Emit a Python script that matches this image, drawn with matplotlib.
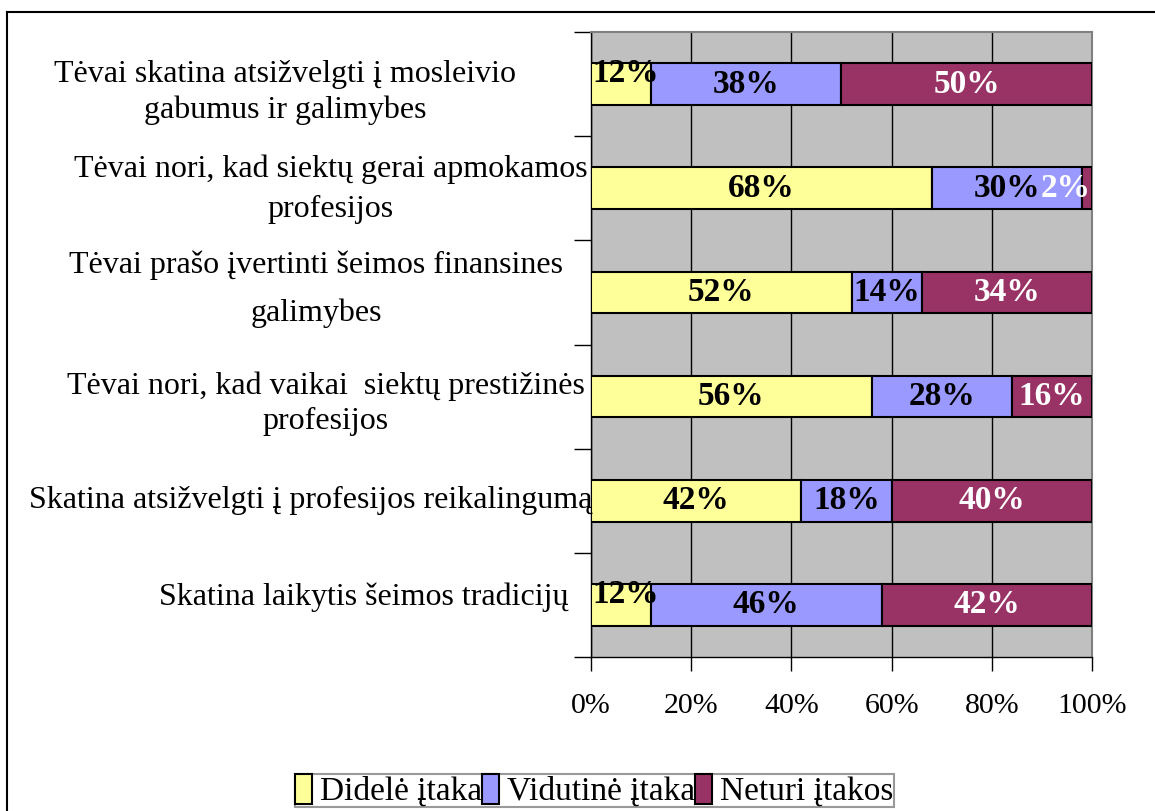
import matplotlib
matplotlib.use("Agg")
import matplotlib.pyplot as plt
from matplotlib.patches import Patch
from matplotlib.lines import Line2D
from matplotlib.transforms import blended_transform_factory

plt.rcParams['font.family'] = ['Liberation Serif', 'DejaVu Serif']

categories = [
    "Tėvai skatina atsižvelgti į mosleivio\ngabumus ir galimybes",
    "Tėvai nori, kad siektų gerai apmokamos\nprofesijos",
    "Tėvai prašo įvertinti šeimos finansines\ngalimybes",
    "Tėvai nori, kad vaikai  siektų prestižinės\nprofesijos",
    "Skatina atsižvelgti į profesijos reikalingumą",
    "Skatina laikytis šeimos tradicijų",
]
didele = [12, 68, 52, 56, 42, 12]
vidutine = [38, 30, 14, 28, 18, 46]
neturi = [50, 2, 34, 16, 40, 42]
series_names = ["Didelė įtaka", "Vidutinė įtaka", "Neturi įtakos"]
series_colors = ["#FFFF99", "#9999FF", "#993366"]
label_colors = ["black", "black", "white"]
xtick_labels = ["0%", "20%", "40%", "60%", "80%", "100%"]

W, H = 1155, 811
fig = plt.figure(figsize=(W / 100, H / 100), dpi=100)
ax = fig.add_axes([591 / W, 1 - 657 / H, (1092 - 591) / W, (657 - 32) / H])
ax.set_facecolor("#C0C0C0")

ys = list(range(len(categories)))
series = [didele, vidutine, neturi]
lefts = [0] * len(categories)
for s, vals in enumerate(series):
    ax.barh(ys, vals, left=lefts, height=0.4, color=series_colors[s],
            edgecolor="black", linewidth=1.5, zorder=3)
    for i, v in enumerate(vals):
        cx = lefts[i] + v / 2
        ha = 'center'
        dy = 0
        if v < 15 and s == 0:
            cx = lefts[i] + 0.2
            ha = 'left'
            dy = -0.1
        elif v < 5:
            cx = 99.8
            ha = 'right'
        ax.text(cx, i + dy, f"{v}%", ha=ha, va='center', fontsize=24,
                fontweight='bold', color=label_colors[s], zorder=4)
    lefts = [a + b for a, b in zip(lefts, vals)]

ax.set_xlim(0, 100)
ax.set_ylim(len(categories) - 0.5, -0.5)
ax.set_xticks([0, 20, 40, 60, 80, 100])
ax.set_xticklabels(xtick_labels, fontsize=21.5)
ax.set_yticks([i - 0.5 for i in range(len(categories) + 1)])
ax.set_yticklabels([])
ax.tick_params(axis='x', direction='out', length=10, width=1, pad=16)
ax.tick_params(axis='y', direction='out', length=12, width=1)
ax.xaxis.grid(True, color='black', linewidth=1, zorder=0)
ax.set_axisbelow(True)
for sp in ['top', 'right']:
    ax.spines[sp].set_color('#808080')
    ax.spines[sp].set_linewidth(1.5)
for sp in ['left', 'bottom']:
    ax.spines[sp].set_color('black')
    ax.spines[sp].set_linewidth(1)

# category labels
tr = blended_transform_factory(fig.transFigure, ax.transData)
label_x = [285, 331, 316, 326, 311, 364]
label_dy = [0.08, 0.01, -0.03, 0.07, 0.0, -0.07]
label_ls = [1.26, 1.51, 1.79, 1.26, 1.2, 1.2]
for i, cat in enumerate(categories):
    ax.text(label_x[i] / W, i + label_dy[i], cat, transform=tr, ha='center',
            va='center', fontsize=23, linespacing=label_ls[i], multialignment='center')

# legend
handles = [Patch(facecolor=c, edgecolor='black', linewidth=1.5) for c in series_colors]
leg = fig.legend(handles, series_names, loc='center', bbox_to_anchor=(594.5 / W, 1 - 790.5 / H),
                 ncol=3, fontsize=24, frameon=True, fancybox=False, handlelength=0.5,
                 handleheight=1.0, handletextpad=0.25, columnspacing=0.0, borderpad=0.0,
                 borderaxespad=0)
leg.get_frame().set_edgecolor('#808080')
leg.get_frame().set_linewidth(1.5)

# figure border (top and left visible)
fig.add_artist(Line2D([7 / W, 1], [1 - 12 / H, 1 - 12 / H], transform=fig.transFigure,
                      color='black', linewidth=1.5))
fig.add_artist(Line2D([7 / W, 7 / W], [0, 1 - 12 / H], transform=fig.transFigure,
                      color='black', linewidth=1.5))

fig.savefig("out.png", dpi=100, facecolor='white')
